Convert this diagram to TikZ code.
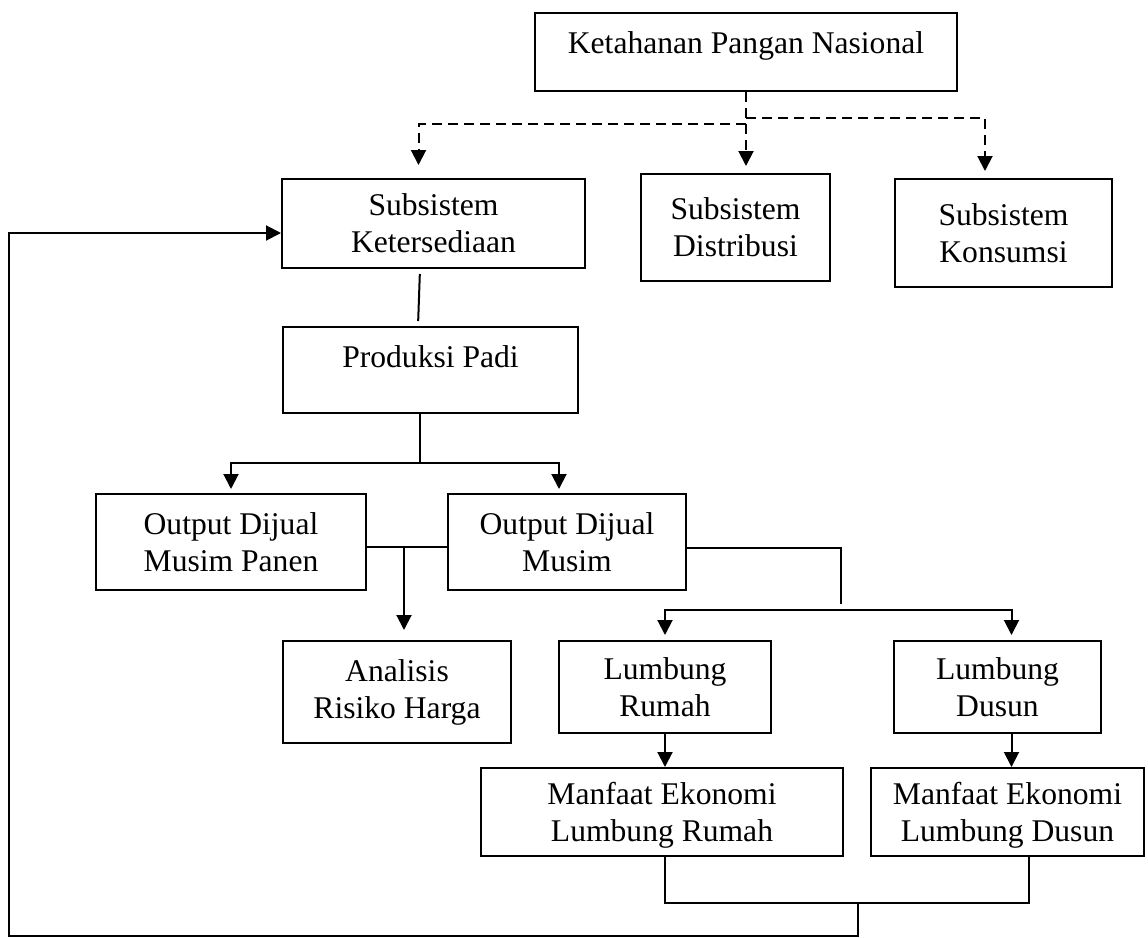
\documentclass[tikz,border=0pt]{standalone}
\usepackage{fontspec}
\setmainfont{Liberation Serif}
\usetikzlibrary{arrows.meta}

\begin{document}
\begin{tikzpicture}[x=0.5pt, y=-0.5pt,
      box/.style={rectangle, draw=black, line width=1pt, inner sep=0pt, align=center, font=\fontsize{15.8pt}{18.5pt}\selectfont},
      arr/.style={-{Triangle[length=7.5pt, width=7.5pt]}, line width=1pt},
      dasharr/.style={arr, dash pattern=on 5pt off 3pt},
      ln/.style={line width=1pt}
    ]
      \useasboundingbox (0,0) rectangle (1148,938);

      \node[box, minimum width=211pt, text height=20pt, text depth=19pt] (N) at (746,52) {Ketahanan Pangan Nasional};
      \node[box, minimum width=151.5pt, minimum height=44.5pt] (S1) at (433.5,223.5) {Subsistem\\Ketersediaan};
      \node[box, minimum width=94.5pt, minimum height=53.5pt] (S2) at (735.5,227.5) {Subsistem\\Distribusi};
      \node[box, minimum width=108.5pt, minimum height=54pt] (S3) at (1003.5,233) {Subsistem\\Konsumsi};
      \node[box, minimum width=147.5pt, text height=20pt, text depth=23pt] (P) at (430.5,370) {Produksi Padi};
      \node[box, minimum width=135pt, minimum height=48pt] (O1) at (231,542) {Output Dijual\\Musim Panen};
      \node[box, minimum width=119pt, minimum height=48pt] (O2) at (567,542) {Output Dijual\\Musim};
      \node[box, minimum width=114pt, minimum height=51pt] (R) at (397,692) {Analisis\\Risiko Harga};
      \node[box, minimum width=106pt, minimum height=46pt] (L1) at (665,687) {Lumbung\\Rumah};
      \node[box, minimum width=103.5pt, minimum height=46pt] (L2) at (997.5,687) {Lumbung\\Dusun};
      \node[box, minimum width=181pt, minimum height=44pt, text depth=0pt] (M1) at (662,812) {Manfaat Ekonomi\\Lumbung Rumah};
      \node[box, minimum width=136.5pt, minimum height=44pt, text depth=0pt] (M2) at (1007.5,812) {Manfaat Ekonomi\\Lumbung Dusun};

      \coordinate (Nl) at (746,124);
      \coordinate (Nr) at (746,118);
      \coordinate (Ps) at (420,463);
      \coordinate (Os) at (404,547);
      \coordinate (Lj) at (841,604);
      \coordinate (Ls) at (841,610);
      \coordinate (Mj) at (858,903);
      \coordinate (Bk) at (9,936);

      \draw[dasharr, shorten >=3.5pt] (N.south) -- (N.south |- S2.north);
      \draw[dasharr, shorten >=6.5pt] (Nl) -| ([xshift=-7.5pt]S1.north);
      \draw[dasharr, shorten >=3.5pt] (Nr) -| ([xshift=-9.25pt]S3.north);

      \draw[ln, shorten <=2.5pt, shorten >=2.5pt] ([xshift=-6.75pt]S1.south) -- ([xshift=-6.25pt]P.north);
      \draw[ln] ([xshift=-5.25pt]P.south) -- (Ps);
      \draw[arr, shorten >=2pt] (Ps) -| (O1.north);
      \draw[arr, shorten >=2pt] (Ps) -| ([xshift=-4pt]O2.north);

      \draw[ln] ([yshift=-2.5pt]O1.east) -- ([yshift=-2.5pt]O2.west);
      \draw[arr, shorten >=5pt] (Os) -- (Os |- R.north);
      \draw[ln] ([yshift=-3pt]O2.east) -| (Lj);
      \draw[arr, shorten >=2.5pt] (Ls) -| (L1.north);
      \draw[arr, shorten >=2.5pt] (Ls) -| ([xshift=7pt]L2.north);

      \draw[arr] (L1.south) -- (L1.south |- M1.north);
      \draw[arr] ([xshift=7pt]L2.south) -- ([xshift=7pt]L2.south |- M2.north);

      \draw[ln] ([xshift=1.5pt]M1.south) -- ([xshift=1.5pt]M1.south |- Mj) -- ([xshift=10.75pt]M2.south |- Mj) -- ([xshift=10.75pt]M2.south);
      \draw[arr] (Mj) -- (Mj |- Bk) -- (Bk) |- ([yshift=-4.75pt]S1.west);
    \end{tikzpicture}
\end{document}
